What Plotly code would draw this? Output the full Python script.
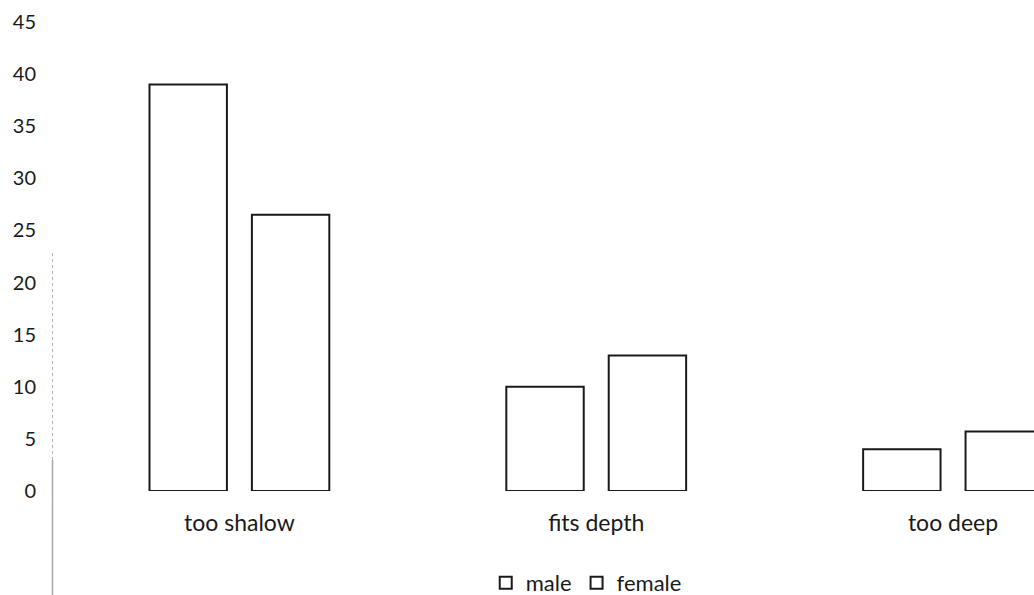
import plotly.graph_objects as go

# Survey counts by perceived depth
categories = ["too shalow", "fits depth", "too deep"]
male = [39, 10, 4]
female = [26.5, 13, 5.7]
y_ticks = [0, 5, 10, 15, 20, 25, 30, 35, 40, 45]

W, H = 1034, 595
left, top, bottom = 60.5, 22, 104
plot_w = W - left
plot_h = H - top - bottom

FONT = "Lato, Calibri, Carlito, sans-serif"
INK = "#1a1a1a"

fig = go.Figure()
for name, vals in (("male", male), ("female", female)):
    fig.add_trace(go.Bar(
        name=name,
        x=categories,
        y=vals,
        marker=dict(color="white", line=dict(color=INK, width=2)),
    ))

# faint vertical rule left of the plot
rule_x = (52 - left) / plot_w
def py(pix):
    return (H - bottom - pix) / plot_h
fig.add_shape(type="line", xref="paper", yref="paper",
              x0=rule_x, x1=rule_x, y0=py(253), y1=py(460),
              line=dict(color="#b4b4b4", width=1, dash="dot"))
fig.add_shape(type="line", xref="paper", yref="paper",
              x0=rule_x, x1=rule_x, y0=py(460), y1=py(595),
              line=dict(color="#a8a8a8", width=1.5))

# the category axis runs past the right edge of the page
x_end = (W - left) / 357 - 0.5

fig.update_layout(
    width=W, height=H,
    margin=dict(l=left, r=0, t=top, b=bottom, pad=0, autoexpand=False),
    paper_bgcolor="white", plot_bgcolor="white",
    font=dict(family=FONT, size=20, color=INK),
    barmode="group",
    bargap=0.426,
    bargroupgap=0.244,
    showlegend=True,
    legend=dict(
        orientation="h",
        x=(586 - left) / plot_w, xanchor="center",
        y=-(583 - (H - bottom)) / plot_h, yanchor="middle",
        font=dict(family=FONT, size=22, color=INK),
        itemwidth=30,
        bgcolor="rgba(0,0,0,0)",
    ),
    xaxis=dict(
        range=[-0.5, x_end],
        showline=False, showgrid=False, zeroline=False,
        ticks="", ticklabelstandoff=16,
        tickfont=dict(family=FONT, size=23, color=INK),
    ),
    yaxis=dict(
        range=[0, 45],
        tickvals=y_ticks,
        showline=False, showgrid=False, zeroline=False,
        ticks="", ticklabelstandoff=24,
        tickfont=dict(family=FONT, size=20, color=INK),
    ),
)

fig.write_html("out.html")
